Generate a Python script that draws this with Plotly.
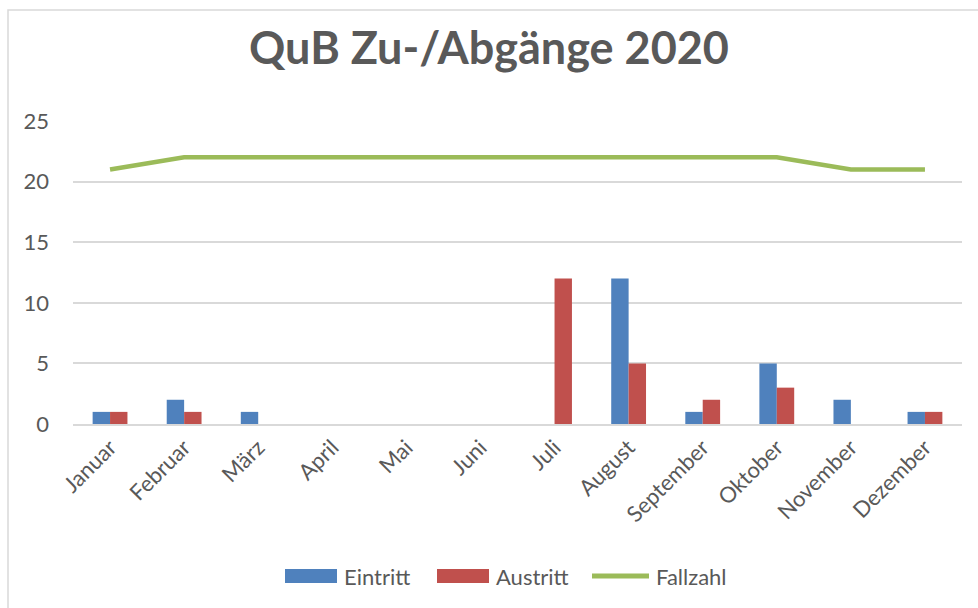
import plotly.graph_objects as go

months = ["Januar", "Februar", "März", "April", "Mai", "Juni", "Juli",
          "August", "September", "Oktober", "November", "Dezember"]
eintritt = [1, 2, 1, 0, 0, 0, 0, 12, 1, 5, 2, 1]
austritt = [1, 1, 0, 0, 0, 0, 12, 5, 2, 3, 0, 1]
fallzahl = [21, 22, 22, 22, 22, 22, 22, 22, 22, 22, 21, 21]
y_ticks = [0, 5, 10, 15, 20, 25]

W, H = 978, 608
L, R, T, B = 73, 16, 121, 184
pw, ph = W - L - R, H - T - B

FONT = "Lato, Open Sans, sans-serif"
GRAY = "#595959"
BLUE, RED, GREEN = "#4F81BD", "#C0504D", "#9BBB59"

def px_x(x):
    return (x - L) / pw

def px_y(y):
    return (H - B - y) / ph

fig = go.Figure()
fig.add_trace(go.Bar(x=months, y=eintritt, name="Eintritt", marker=dict(color=BLUE, line=dict(width=0))))
fig.add_trace(go.Bar(x=months, y=austritt, name="Austritt", marker=dict(color=RED, line=dict(width=0))))
fig.add_trace(go.Scatter(x=months, y=fallzahl, name="Fallzahl", mode="lines",
                         line=dict(color=GREEN, width=4.5)))

# chart outer border (left and top visible)
fig.add_shape(type="rect", xref="paper", yref="paper", x0=px_x(8), x1=px_x(W + 20),
              y0=px_y(H + 20), y1=px_y(10), line=dict(color="#D9D9D9", width=1.5), layer="below")

# legend drawn manually to match wide swatches
ly = 576
legend_items = [("Eintritt", BLUE, 285, 337, "bar"), ("Austritt", RED, 437, 489, "bar"),
                ("Fallzahl", GREEN, 592, 649, "line")]
for name, col, xa, xb, kind in legend_items:
    if kind == "bar":
        fig.add_shape(type="rect", xref="paper", yref="paper", x0=px_x(xa), x1=px_x(xb),
                      y0=px_y(ly + 7), y1=px_y(ly - 7), fillcolor=col, line=dict(width=0))
    else:
        fig.add_shape(type="line", xref="paper", yref="paper", x0=px_x(xa), x1=px_x(xb),
                      y0=px_y(ly), y1=px_y(ly), line=dict(color=col, width=5))
    fig.add_annotation(text=name, xref="paper", yref="paper", x=px_x(xb + 5), y=px_y(ly),
                       xanchor="left", yanchor="middle", showarrow=False,
                       font=dict(size=22, color=GRAY, family=FONT))

fig.update_layout(
    width=W, height=H,
    margin=dict(l=L, r=R, t=T, b=B, autoexpand=False),
    paper_bgcolor="white", plot_bgcolor="white",
    font=dict(family=FONT, color=GRAY, size=22),
    title=dict(text="<b>QuB Zu-/Abgänge 2020</b>", x=0.5, xanchor="center", xref="container",
               y=1 - 48 / H, yanchor="middle", font=dict(size=45, color=GRAY, family=FONT),
               automargin=False),
    barmode="group", bargap=0.53, bargroupgap=0,
    showlegend=False,
    xaxis=dict(tickangle=-45, showgrid=False, showline=True, linecolor="#D9D9D9", linewidth=2,
               ticks="", tickfont=dict(size=22, color=GRAY), automargin=False),
    yaxis=dict(range=[0, 25], tickvals=y_ticks, showgrid=True, gridcolor="#D9D9D9", gridwidth=1.5,
               zeroline=False, showline=False, ticks="", ticklabelstandoff=23,
               tickfont=dict(size=22, color=GRAY), automargin=False),
)

fig.write_html("out.html", config={"displayModeBar": False},
               post_script="document.body.style.margin='0';document.body.style.overflow='hidden';")
